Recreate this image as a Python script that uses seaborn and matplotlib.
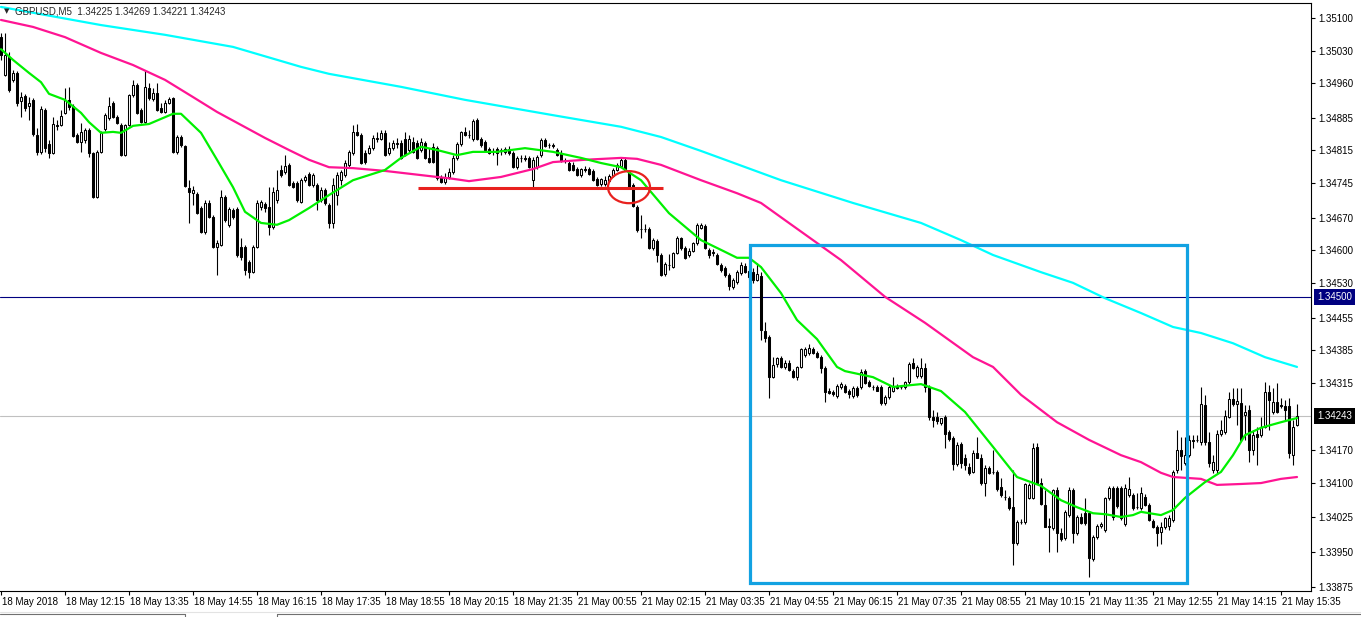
import numpy as np
import pandas as pd
import seaborn as sns
import matplotlib.pyplot as plt
from matplotlib.lines import Line2D
from matplotlib.patches import Ellipse, Rectangle
from matplotlib.transforms import ScaledTranslation, blended_transform_factory

# GBPUSD M5, 18-21 May 2018 -- quotes in points (price x 1e5), one entry per 5 min bar
open_pts = [
    135059, 134978, 135016, 134967, 134982, 134922, 134932, 134911, 134924, 134848,
    134812, 134902, 134829, 134810, 134870, 134870, 134896, 134924, 134911, 134848,
    134833, 134838, 134859, 134810, 134715, 134812, 134861, 134885, 134917, 134887,
    134870, 134805, 134870, 134934, 134956, 134902, 134876, 134950, 134926, 134939,
    134907, 134898, 134917, 134928, 134812, 134844, 134825, 134734, 134723, 134721,
    134691, 134640, 134702, 134672, 134607, 134612, 134715, 134655, 134687, 134689,
    134607, 134607, 134575, 134553, 134607, 134693, 134700, 134693, 134650, 134708,
    134773, 134769, 134784, 134745, 134745, 134704, 134751, 134764, 134741, 134741,
    134708, 134730, 134698, 134659, 134719, 134751, 134762, 134784, 134810, 134855,
    134848, 134810, 134810, 134820, 134840, 134840, 134853, 134810, 134820, 134829,
    134831, 134840, 134816, 134833, 134831, 134816, 134831, 134799, 134823, 134820,
    134758, 134747, 134758, 134769, 134799, 134829, 134855, 134848, 134840, 134881,
    134840, 134833, 134818, 134814, 134818, 134814, 134812, 134818, 134810, 134779,
    134799, 134799, 134799, 134751, 134779, 134805, 134838, 134827, 134827, 134816,
    134810, 134795, 134788, 134784, 134775, 134762, 134775, 134775, 134771, 134754,
    134743, 134743, 134749, 134760, 134773, 134782, 134795, 134769, 134741, 134693,
    134646, 134646, 134646, 134605, 134620, 134590, 134549, 134568, 134564, 134594,
    134627, 134605, 134590, 134599, 134616, 134648, 134652, 134601, 134596, 134590,
    134568, 134562, 134547, 134521, 134532, 134551, 134566, 134556, 134553, 134536,
    134545, 134426, 134413, 134327, 134355, 134368, 134349, 134357, 134340, 134327,
    134349, 134375, 134379, 134388, 134379, 134370, 134347, 134297, 134295, 134286,
    134306, 134308, 134297, 134286, 134304, 134306, 134340, 134317, 134306, 134306,
    134306, 134271, 134284, 134297, 134308, 134306, 134306, 134317, 134357, 134330,
    134330, 134347, 134306, 134241, 134241, 134228, 134241, 134209, 134196, 134140,
    134183, 134153, 134134, 134123, 134164, 134153, 134099, 134131, 134123, 134123,
    134091, 134069, 134067, 134047, 133970, 134015, 134015, 134067, 134067, 134177,
    134099, 134052, 134006, 134002, 134084, 133991, 133981, 134030, 134084, 133991,
    134026, 134034, 134034, 133935, 133983, 134006, 133998, 134067, 134088, 134088,
    134088, 134011, 134073, 134073, 134047, 134045, 134069, 134052, 134017, 134004,
    133994, 134004, 134006, 134019, 134127, 134170, 134142, 134159, 134192, 134192,
    134187, 134267, 134187, 134127, 134127, 134205, 134209, 134241, 134280, 134269,
    134271, 134246, 134256, 134170, 134205, 134202, 134220, 134295, 134252, 134274,
    134267, 134265, 134265, 134159, 134225,
]
high_pts = [
    135068, 135068, 135027, 134988, 134986, 134941, 134937, 134930, 134928, 134863,
    134911, 134907, 134838, 134887, 134881, 134902, 134950, 134952, 134915, 134853,
    134874, 134863, 134863, 134812, 134816, 134857, 134896, 134930, 134922, 134891,
    134874, 134872, 134937, 134967, 134960, 134907, 134988, 134960, 134950, 134960,
    134917, 134924, 134930, 134930, 134848, 134848, 134827, 134751, 134739, 134726,
    134696, 134708, 134708, 134676, 134622, 134730, 134719, 134693, 134691, 134693,
    134627, 134612, 134579, 134612, 134708, 134708, 134704, 134736, 134736, 134773,
    134784, 134805, 134788, 134749, 134749, 134756, 134762, 134769, 134766, 134745,
    134736, 134734, 134702, 134756, 134769, 134773, 134795, 134816, 134870, 134872,
    134853, 134816, 134827, 134848, 134855, 134859, 134859, 134833, 134838, 134842,
    134838, 134855, 134848, 134844, 134838, 134842, 134835, 134820, 134831, 134825,
    134762, 134766, 134777, 134805, 134833, 134857, 134866, 134859, 134883, 134885,
    134844, 134838, 134823, 134820, 134823, 134820, 134823, 134825, 134814, 134803,
    134805, 134805, 134803, 134801, 134805, 134842, 134842, 134831, 134831, 134820,
    134816, 134799, 134792, 134790, 134779, 134777, 134782, 134779, 134775, 134758,
    134756, 134760, 134764, 134777, 134788, 134801, 134801, 134773, 134745, 134698,
    134676, 134657, 134650, 134627, 134624, 134594, 134575, 134592, 134596, 134631,
    134629, 134609, 134605, 134618, 134659, 134659, 134657, 134605, 134603, 134594,
    134573, 134566, 134551, 134540, 134558, 134575, 134573, 134560, 134562, 134573,
    134553, 134446, 134418, 134370, 134370, 134372, 134364, 134364, 134345, 134351,
    134390, 134392, 134398, 134392, 134383, 134375, 134351, 134304, 134299, 134312,
    134317, 134312, 134302, 134308, 134308, 134345, 134345, 134321, 134310, 134310,
    134310, 134289, 134310, 134327, 134312, 134310, 134319, 134360, 134368, 134353,
    134368, 134357, 134310, 134256, 134252, 134239, 134246, 134213, 134200, 134187,
    134187, 134162, 134142, 134170, 134198, 134162, 134138, 134136, 134170, 134127,
    134110, 134084, 134071, 134127, 134019, 134022, 134100, 134099, 134185, 134185,
    134110, 134084, 134024, 134086, 134091, 134002, 134041, 134091, 134088, 134030,
    134034, 134067, 134039, 133987, 134011, 134015, 134069, 134093, 134093, 134093,
    134093, 134097, 134112, 134078, 134078, 134091, 134075, 134056, 134022, 134009,
    134015, 134026, 134030, 134127, 134213, 134198, 134198, 134202, 134202, 134202,
    134306, 134289, 134209, 134159, 134213, 134235, 134256, 134295, 134304, 134304,
    134304, 134267, 134267, 134213, 134220, 134241, 134317, 134310, 134304, 134314,
    134282, 134278, 134282, 134235, 134269,
]
low_pts = [
    135010, 134975, 134941, 134962, 134911, 134887, 134900, 134881, 134846, 134805,
    134807, 134812, 134799, 134807, 134859, 134868, 134894, 134902, 134844, 134831,
    134812, 134831, 134801, 134713, 134713, 134810, 134857, 134881, 134885, 134872,
    134803, 134803, 134868, 134930, 134894, 134874, 134874, 134924, 134922, 134900,
    134896, 134896, 134915, 134810, 134807, 134823, 134736, 134659, 134698, 134678,
    134637, 134635, 134670, 134605, 134547, 134609, 134661, 134650, 134668, 134586,
    134579, 134547, 134540, 134551, 134605, 134687, 134683, 134633, 134646, 134702,
    134758, 134764, 134739, 134734, 134704, 134702, 134747, 134739, 134736, 134687,
    134704, 134698, 134648, 134648, 134698, 134741, 134758, 134777, 134805, 134846,
    134786, 134786, 134807, 134816, 134833, 134838, 134803, 134805, 134816, 134820,
    134797, 134803, 134812, 134810, 134797, 134812, 134797, 134788, 134788, 134751,
    134745, 134743, 134754, 134764, 134795, 134825, 134846, 134842, 134835, 134838,
    134823, 134814, 134807, 134805, 134784, 134805, 134807, 134805, 134777, 134775,
    134790, 134792, 134777, 134736, 134775, 134801, 134823, 134820, 134820, 134803,
    134790, 134788, 134771, 134771, 134760, 134758, 134769, 134762, 134749, 134739,
    134739, 134739, 134747, 134758, 134771, 134779, 134771, 134734, 134693, 134640,
    134627, 134640, 134603, 134601, 134575, 134545, 134545, 134558, 134562, 134592,
    134601, 134581, 134586, 134596, 134612, 134646, 134603, 134584, 134588, 134568,
    134553, 134543, 134515, 134517, 134528, 134547, 134551, 134538, 134530, 134534,
    134407, 134403, 134282, 134325, 134349, 134347, 134345, 134340, 134325, 134321,
    134347, 134370, 134375, 134377, 134368, 134336, 134273, 134291, 134286, 134282,
    134302, 134293, 134282, 134282, 134284, 134302, 134312, 134306, 134299, 134297,
    134267, 134267, 134280, 134295, 134302, 134302, 134302, 134312, 134345, 134325,
    134325, 134295, 134235, 134220, 134226, 134224, 134174, 134190, 134127, 134136,
    134131, 134127, 134116, 134121, 134153, 134095, 134071, 134118, 134118, 134082,
    134069, 134062, 134041, 133923, 133966, 134011, 134011, 134065, 134065, 134097,
    134052, 134004, 133951, 133998, 133951, 133974, 133976, 134026, 133970, 133987,
    134011, 134009, 133897, 133931, 133979, 134002, 133994, 134062, 134019, 134045,
    134019, 134006, 134069, 134041, 134043, 134041, 134050, 134017, 134002, 133963,
    133968, 134000, 133998, 134015, 134121, 134127, 134138, 134155, 134174, 134187,
    134181, 134181, 134134, 134121, 134121, 134200, 134205, 134239, 134265, 134224,
    134190, 134192, 134144, 134159, 134138, 134198, 134218, 134213, 134248, 134250,
    134261, 134235, 134153, 134138, 134221,
]
close_pts = [
    135021, 135021, 134945, 134982, 134917, 134930, 134907, 134917, 134850, 134812,
    134904, 134820, 134810, 134872, 134868, 134889, 134924, 134909, 134846, 134833,
    134855, 134859, 134810, 134715, 134812, 134853, 134891, 134911, 134887, 134874,
    134805, 134870, 134934, 134956, 134896, 134876, 134952, 134928, 134939, 134902,
    134898, 134917, 134926, 134812, 134844, 134827, 134739, 134726, 134730, 134680,
    134640, 134702, 134672, 134607, 134616, 134715, 134665, 134689, 134672, 134590,
    134586, 134558, 134553, 134607, 134702, 134704, 134691, 134650, 134726, 134730,
    134762, 134782, 134741, 134736, 134708, 134751, 134758, 134741, 134762, 134708,
    134730, 134702, 134659, 134741, 134762, 134769, 134788, 134812, 134855, 134848,
    134788, 134790, 134820, 134842, 134842, 134853, 134805, 134820, 134831, 134831,
    134799, 134805, 134840, 134812, 134799, 134833, 134799, 134790, 134790, 134756,
    134747, 134758, 134769, 134799, 134829, 134855, 134848, 134849, 134878, 134840,
    134827, 134816, 134810, 134813, 134810, 134815, 134818, 134810, 134779, 134799,
    134798, 134797, 134779, 134795, 134801, 134838, 134825, 134826, 134825, 134805,
    134792, 134794, 134773, 134773, 134762, 134775, 134774, 134764, 134751, 134741,
    134754, 134751, 134760, 134773, 134784, 134795, 134773, 134736, 134696, 134644,
    134645, 134645, 134605, 134622, 134590, 134547, 134571, 134569, 134594, 134627,
    134605, 134584, 134599, 134616, 134655, 134655, 134605, 134590, 134594, 134571,
    134558, 134547, 134523, 134536, 134553, 134568, 134553, 134543, 134536, 134549,
    134429, 134411, 134327, 134353, 134368, 134349, 134357, 134342, 134327, 134349,
    134388, 134388, 134390, 134379, 134370, 134347, 134295, 134293, 134291, 134308,
    134312, 134295, 134291, 134304, 134289, 134338, 134314, 134307, 134305, 134297,
    134271, 134284, 134306, 134306, 134304, 134305, 134317, 134355, 134347, 134349,
    134347, 134306, 134241, 134235, 134233, 134239, 134205, 134194, 134140, 134181,
    134142, 134138, 134121, 134164, 134154, 134099, 134131, 134121, 134122, 134086,
    134073, 134070, 134045, 133970, 134015, 134016, 134097, 134095, 134174, 134099,
    134053, 134005, 134004, 134084, 133991, 133979, 134037, 134084, 133991, 134026,
    134013, 134013, 133938, 133983, 134006, 134011, 134067, 134088, 134026, 134050,
    134024, 134088, 134086, 134045, 134048, 134078, 134052, 134019, 134004, 133991,
    134004, 134024, 134024, 134123, 134170, 134157, 134159, 134192, 134190, 134191,
    134269, 134187, 134142, 134144, 134205, 134213, 134243, 134280, 134269, 134276,
    134192, 134252, 134170, 134202, 134198, 134220, 134295, 134278, 134274, 134252,
    134265, 134256, 134164, 134220, 134243,
]

# moving averages (bar index -> value in points)
fast_bars = [0, 3, 7, 10, 12, 16, 20, 22, 25, 28, 30, 33, 37, 43, 45, 50, 54, 58, 61, 65,
             69, 72, 77, 82, 88, 96, 100, 105, 109, 114, 118, 124, 131, 138, 145, 150, 155, 160,
             167, 175, 180, 184, 187, 190, 195, 199, 204, 209, 211, 218, 223, 230, 235, 241,
             248, 254, 260, 265, 269, 273, 276, 280, 283, 285, 290, 293, 296, 301, 305, 308,
             311, 315, 320, 324]
fast_ma = [135033, 135010, 134982, 134962, 134937, 134924, 134896, 134876, 134853, 134855,
           134853, 134868, 134872, 134894, 134894, 134853, 134795, 134736, 134683, 134659,
           134655, 134665, 134691, 134719, 134751, 134773, 134799, 134823, 134816, 134805,
           134812, 134812, 134820, 134812, 134799, 134788, 134779, 134751, 134680, 134622,
           134601, 134584, 134584, 134564, 134508, 134450, 134409, 134349, 134340, 134327,
           134306, 134312, 134297, 134252, 134177, 134112, 134093, 134062, 134047, 134034,
           134032, 134026, 134030, 134037, 134030, 134041, 134067, 134101, 134123, 134159,
           134202, 134218, 134230, 134239]
mid_bars = [0, 8, 16, 25, 33, 41, 48, 54, 60, 66, 72, 77, 82, 88, 96, 105, 113, 117, 125, 133,
            138, 146, 155, 159, 165, 175, 184, 190, 196, 203, 210, 221, 231, 243, 248, 255,
            264, 272, 280, 285, 290, 293, 300, 304, 310, 315, 320, 324]
mid_ma = [135096, 135081, 135059, 135025, 134999, 134967, 134930, 134898, 134870, 134842,
          134816, 134795, 134779, 134777, 134771, 134762, 134754, 134749, 134758, 134775,
          134790, 134795, 134799, 134797, 134784, 134751, 134723, 134702, 134665, 134622,
          134579, 134500, 134444, 134370, 134349, 134289, 134230, 134192, 134159, 134144,
          134121, 134112, 134108, 134095, 134097, 134099, 134108, 134112]
slow_bars = [0, 25, 41, 58, 75, 82, 100, 116, 138, 155, 165, 175, 195, 213, 230, 240, 248,
             260, 268, 276, 285, 293, 300, 308, 316, 324]
slow_ma = [135124, 135085, 135064, 135038, 134995, 134980, 134952, 134924, 134891, 134866,
           134844, 134814, 134751, 134702, 134659, 134622, 134590, 134553, 134530, 134497,
           134465, 134435, 134422, 134400, 134370, 134349]

time_labels = ["18 May 2018", "18 May 12:15", "18 May 13:35", "18 May 14:55", "18 May 16:15",
               "18 May 17:35", "18 May 18:55", "18 May 20:15", "18 May 21:35", "21 May 00:55",
               "21 May 02:15", "21 May 03:35", "21 May 04:55", "21 May 06:15", "21 May 07:35",
               "21 May 08:55", "21 May 10:15", "21 May 11:35", "21 May 12:55", "21 May 14:15",
               "21 May 15:35"]
price_ticks = [1.35100, 1.35030, 1.34960, 1.34885, 1.34815, 1.34745, 1.34670, 1.34600,
               1.34530, 1.34455, 1.34385, 1.34315, 1.34170, 1.34100, 1.34025, 1.33950, 1.33875]
level_line = 1.34500
bid = 1.34243
title = "GBPUSD,M5  1.34225 1.34269 1.34221 1.34243"

# hand drawn markup
support = 1.34734
support_from, support_to = 104.25, 165.5
circle_bar, circle_price = 157, 1.34736
box_from, box_to = 187.25, 296.5
box_low, box_high = 1.33884, 1.34612

sns.set_theme(style="white")
plt.rcParams['font.family'] = ['Liberation Sans', 'DejaVu Sans']

df = pd.DataFrame({"open": open_pts, "high": high_pts, "low": low_pts, "close": close_pts}) / 1e5
df["bar"] = np.arange(len(df))
up = df.close >= df.open

fig = plt.figure(figsize=(13.61, 6.17), dpi=100)
ax = fig.add_axes([0, 26 / 617, 1311 / 1361, 588 / 617])

ax.vlines(df.bar, df.low, df.high, color="black", lw=0.8, zorder=2)
ax.bar(df.bar, (df.close - df.open).abs().clip(lower=1e-7), bottom=df[["open", "close"]].min(axis=1),
       width=0.55, color=np.where(up, "white", "black"), edgecolor="black", linewidth=0.75, zorder=3)

sns.lineplot(x=slow_bars, y=np.array(slow_ma) / 1e5, color="#00ffff", lw=1.6, ax=ax, zorder=4)
sns.lineplot(x=mid_bars, y=np.array(mid_ma) / 1e5, color="#ff1493", lw=1.6, ax=ax, zorder=4)
sns.lineplot(x=fast_bars, y=np.array(fast_ma) / 1e5, color="#00f000", lw=1.6, ax=ax, zorder=4)

ax.axhline(level_line, color="#000080", lw=0.8, zorder=1)
ax.axhline(bid, color="#c0c0c0", lw=0.8, zorder=1)

ax.hlines(support, support_from, support_to, color="#e8211e", lw=2.2, zorder=5)
ax.add_patch(Ellipse((circle_bar, circle_price), 10.5, 0.00069, fill=False, ec="#e8211e", lw=1.6, zorder=5))
ax.add_patch(Rectangle((box_from, box_low), box_to - box_from, box_high - box_low,
                       fill=False, ec="#12a2e2", lw=2.3, zorder=5))

ax.set_xlim(-0.25, 327.5)
ax.set_ylim(1.338666, 1.351325)
ax.set_xlabel("")
ax.set_ylabel("")

ax.yaxis.tick_right()
ax.set_yticks(price_ticks)
ax.set_yticklabels([f"{t:.5f}" for t in price_ticks])
ax.tick_params(axis="y", right=True, left=False, direction="out", length=3, width=0.8,
               pad=2, labelsize=7, colors="black")
ax.set_xticks(np.arange(0, 16 * len(time_labels), 16))
ax.set_xticklabels(time_labels)
ax.tick_params(axis="x", bottom=True, direction="out", length=3, width=0.8, pad=1.5,
               labelsize=7, colors="black")
shift = ScaledTranslation(1 / 72, 0, fig.dpi_scale_trans)
for lab in ax.get_xticklabels():
    lab.set_ha("left")
    lab.set_transform(lab.get_transform() + shift)

ax.spines["left"].set_visible(False)
for side in ["top", "right", "bottom"]:
    ax.spines[side].set_color("black")
    ax.spines[side].set_linewidth(0.8)

tr = blended_transform_factory(ax.transAxes, ax.transData)
ax.text(1.0045, level_line, f"{level_line:.5f}", transform=tr, ha="left", va="center", fontsize=7,
        color="white", clip_on=False, zorder=6,
        bbox=dict(boxstyle="square,pad=0.3", fc="#000080", ec="none"))
ax.text(1.0045, bid, f"{bid:.5f}", transform=tr, ha="left", va="center", fontsize=7,
        color="white", clip_on=False, zorder=6,
        bbox=dict(boxstyle="square,pad=0.3", fc="black", ec="none"))

fig.text(4 / 1361, 1 - 11 / 617, "\u25bc", fontsize=5, va="center", ha="left", family="DejaVu Sans")
fig.text(15 / 1361, 1 - 11 / 617, title, fontsize=7, va="center", ha="left")

# tab strip along the bottom edge of the terminal window
W, H = 1361, 617
fig.add_artist(Line2D([0, 1], [1 - 611.5 / H] * 2, color="#e3e3e3", lw=0.8))
fig.add_artist(Line2D([0, 185 / W], [1 - 614 / H] * 2, color="#707070", lw=0.8))
fig.add_artist(Line2D([185 / W] * 2, [1 - 614 / H, 0], color="#707070", lw=0.8))
fig.add_artist(Line2D([277 / W, 1], [1 - 614 / H] * 2, color="#707070", lw=0.8))
fig.add_artist(Line2D([277 / W] * 2, [1 - 614 / H, 0], color="#707070", lw=0.8))

fig.savefig("out.png", dpi=100)
